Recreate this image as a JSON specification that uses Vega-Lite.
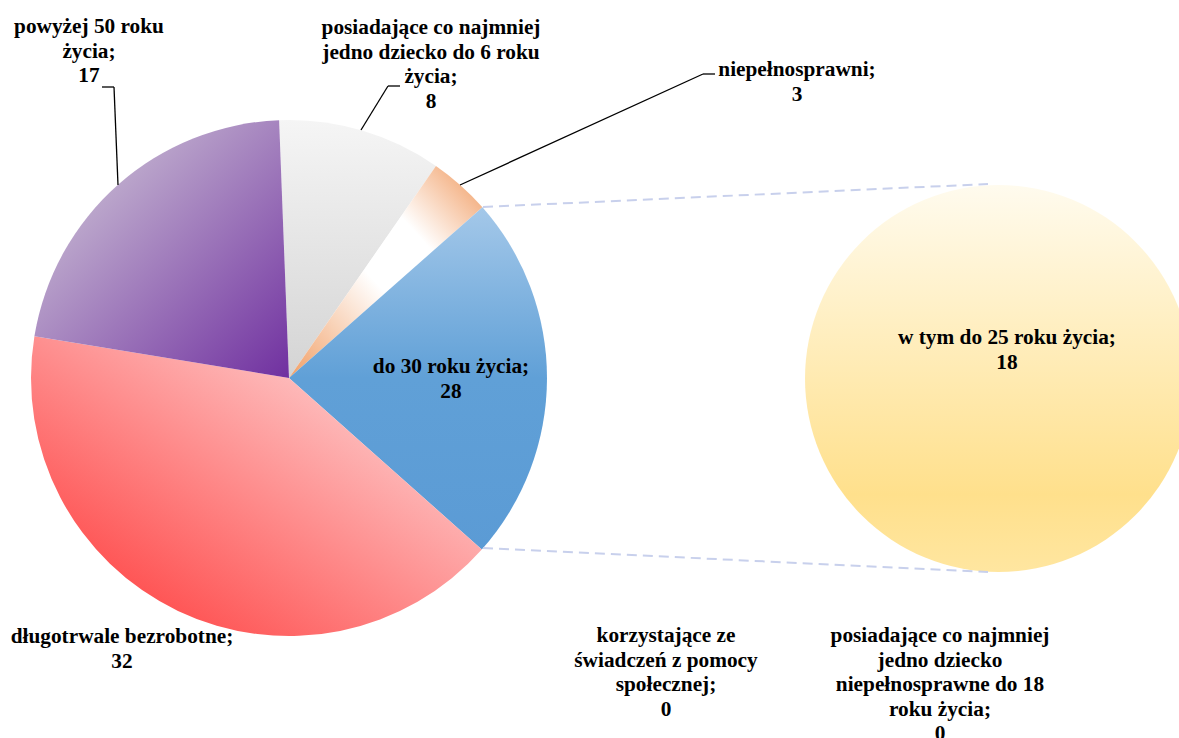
{
  "$schema": "https://vega.github.io/schema/vega-lite/v6.json",
  "width": 1179,
  "height": 738,
  "padding": 0,
  "autosize": {"type": "none"},
  "background": "#ffffff",
  "config": {
    "view": {"stroke": null},
    "text": {"font": "Liberation Serif", "fontWeight": "bold", "fontSize": 21.3, "lineHeight": 24.5, "color": "#000000", "align": "center", "baseline": "middle"}
  },
  "datasets": {
    "glowny": [
      {"kolej": 1, "kategoria": "posiadające co najmniej jedno dziecko do 6 roku życia", "wartosc": 8, "etykieta": ["posiadające co najmniej", "jedno dziecko do 6 roku", "życia;", "8"]},
      {"kolej": 2, "kategoria": "niepełnosprawni", "wartosc": 3, "etykieta": ["niepełnosprawni;", "3"]},
      {"kolej": 3, "kategoria": "do 30 roku życia", "wartosc": 18, "etykieta": ["do 30 roku życia;", "28"]},
      {"kolej": 4, "kategoria": "długotrwale bezrobotne", "wartosc": 32, "etykieta": ["długotrwale bezrobotne;", "32"]},
      {"kolej": 5, "kategoria": "powyżej 50 roku życia", "wartosc": 17, "etykieta": ["powyżej 50 roku", "życia;", "17"]}
    ],
    "drugi": [
      {"kolej": 1, "kategoria": "w tym do 25 roku życia", "wartosc": 18, "etykieta": ["w tym do 25 roku życia;", "18"]},
      {"kolej": 2, "kategoria": "korzystające ze świadczeń z pomocy społecznej", "wartosc": 0, "etykieta": ["korzystające ze", "świadczeń z pomocy", "społecznej;", "0"]},
      {"kolej": 3, "kategoria": "posiadające co najmniej jedno dziecko niepełnosprawne do 18 roku życia", "wartosc": 0, "etykieta": ["posiadające co najmniej", "jedno dziecko", "niepełnosprawne do 18", "roku życia;", "0"]}
    ],
    "pusty": [{}]
  },
  "resolve": {"scale": {"theta": "independent"}},
  "layer": [
    {
      "data": {"name": "glowny"},
      "mark": {"type": "arc", "outerRadius": 258, "stroke": null},
      "encoding": {
        "x": {"datum": 289, "type": "quantitative", "scale": {"domain": [0, 1179], "nice": false, "zero": false}, "axis": null},
        "y": {"datum": 378, "type": "quantitative", "scale": {"domain": [0, 738], "nice": false, "zero": false, "reverse": true}, "axis": null},
        "theta": {"field": "wartosc", "type": "quantitative", "stack": true, "scale": {"range": [-0.0384, 6.2448], "nice": false, "zero": true}},
        "order": {"field": "kolej", "type": "quantitative"},
        "fill": {
          "condition": [
            {"test": "datum.kolej === 1", "value": {"gradient": "linear", "x1": 0.5, "y1": 0, "x2": 0.5, "y2": 1, "stops": [{"offset": 0, "color": "#f5f5f5"}, {"offset": 1, "color": "#d4d4d4"}]}},
            {"test": "datum.kolej === 2", "value": {"gradient": "linear", "x1": 1, "y1": 0, "x2": 0, "y2": 1, "stops": [{"offset": 0, "color": "#f0985c"}, {"offset": 0.33, "color": "#ffffff"}, {"offset": 0.55, "color": "#ffffff"}, {"offset": 1, "color": "#f19f66"}]}},
            {"test": "datum.kolej === 3", "value": {"gradient": "linear", "x1": 0.5, "y1": 0, "x2": 0.5, "y2": 1, "stops": [{"offset": 0, "color": "#a4c8e9"}, {"offset": 0.5, "color": "#60a0d7"}, {"offset": 1, "color": "#5b9bd5"}]}},
            {"test": "datum.kolej === 4", "value": {"gradient": "linear", "x1": 0, "y1": 1, "x2": 1, "y2": 0, "stops": [{"offset": 0, "color": "#ff3030"}, {"offset": 1, "color": "#fdeeee"}]}},
            {"test": "datum.kolej === 5", "value": {"gradient": "linear", "x1": 0, "y1": 0, "x2": 1, "y2": 1, "stops": [{"offset": 0, "color": "#d8d4dc"}, {"offset": 1, "color": "#7030a0"}]}}
          ],
          "value": "#cccccc"
        }
      }
    },
    {
      "data": {"name": "drugi"},
      "mark": {"type": "arc", "outerRadius": 193.5, "stroke": null},
      "encoding": {
        "x": {"datum": 998.5, "type": "quantitative"},
        "y": {"datum": 378.5, "type": "quantitative"},
        "theta": {"field": "wartosc", "type": "quantitative", "stack": true},
        "order": {"field": "kolej", "type": "quantitative"},
        "fill": {"value": {"gradient": "linear", "x1": 0.5, "y1": 0, "x2": 0.5, "y2": 1, "stops": [{"offset": 0, "color": "#fffbee"}, {"offset": 0.8, "color": "#ffe08c"}, {"offset": 1, "color": "#ffe6a0"}]}}
      }
    },
    {
      "data": {"name": "pusty"},
      "mark": {"type": "rule", "color": "#c8d0ec", "strokeWidth": 2, "strokeDash": [10, 6]},
      "encoding": {"x": {"datum": 483, "type": "quantitative"}, "y": {"datum": 207, "type": "quantitative"}, "x2": {"datum": 988}, "y2": {"datum": 184}}
    },
    {
      "data": {"name": "pusty"},
      "mark": {"type": "rule", "color": "#c8d0ec", "strokeWidth": 2, "strokeDash": [10, 6]},
      "encoding": {"x": {"datum": 483, "type": "quantitative"}, "y": {"datum": 548, "type": "quantitative"}, "x2": {"datum": 988}, "y2": {"datum": 572}}
    },
    {
      "data": {"name": "pusty"},
      "mark": {"type": "rule", "color": "#000000", "strokeWidth": 1.3},
      "encoding": {"x": {"datum": 102, "type": "quantitative"}, "y": {"datum": 87, "type": "quantitative"}, "x2": {"datum": 114}, "y2": {"datum": 87}}
    },
    {
      "data": {"name": "pusty"},
      "mark": {"type": "rule", "color": "#000000", "strokeWidth": 1.3},
      "encoding": {"x": {"datum": 114, "type": "quantitative"}, "y": {"datum": 87, "type": "quantitative"}, "x2": {"datum": 118}, "y2": {"datum": 185}}
    },
    {
      "data": {"name": "pusty"},
      "mark": {"type": "rule", "color": "#000000", "strokeWidth": 1.3},
      "encoding": {"x": {"datum": 400, "type": "quantitative"}, "y": {"datum": 86, "type": "quantitative"}, "x2": {"datum": 388}, "y2": {"datum": 86}}
    },
    {
      "data": {"name": "pusty"},
      "mark": {"type": "rule", "color": "#000000", "strokeWidth": 1.3},
      "encoding": {"x": {"datum": 388, "type": "quantitative"}, "y": {"datum": 86, "type": "quantitative"}, "x2": {"datum": 361}, "y2": {"datum": 130}}
    },
    {
      "data": {"name": "pusty"},
      "mark": {"type": "rule", "color": "#000000", "strokeWidth": 1.3},
      "encoding": {"x": {"datum": 715, "type": "quantitative"}, "y": {"datum": 74, "type": "quantitative"}, "x2": {"datum": 703}, "y2": {"datum": 74}}
    },
    {
      "data": {"name": "pusty"},
      "mark": {"type": "rule", "color": "#000000", "strokeWidth": 1.3},
      "encoding": {"x": {"datum": 703, "type": "quantitative"}, "y": {"datum": 74, "type": "quantitative"}, "x2": {"datum": 460}, "y2": {"datum": 185}}
    },
    {
      "data": {"name": "glowny"},
      "transform": [{"filter": "datum.kolej === 1"}],
      "mark": {"type": "text"},
      "encoding": {"x": {"datum": 431, "type": "quantitative"}, "y": {"datum": 28, "type": "quantitative"}, "text": {"field": "etykieta"}}
    },
    {
      "data": {"name": "glowny"},
      "transform": [{"filter": "datum.kolej === 2"}],
      "mark": {"type": "text"},
      "encoding": {"x": {"datum": 797, "type": "quantitative"}, "y": {"datum": 70, "type": "quantitative"}, "text": {"field": "etykieta"}}
    },
    {
      "data": {"name": "glowny"},
      "transform": [{"filter": "datum.kolej === 3"}],
      "mark": {"type": "text"},
      "encoding": {"x": {"datum": 451, "type": "quantitative"}, "y": {"datum": 367, "type": "quantitative"}, "text": {"field": "etykieta"}}
    },
    {
      "data": {"name": "glowny"},
      "transform": [{"filter": "datum.kolej === 4"}],
      "mark": {"type": "text"},
      "encoding": {"x": {"datum": 122, "type": "quantitative"}, "y": {"datum": 637, "type": "quantitative"}, "text": {"field": "etykieta"}}
    },
    {
      "data": {"name": "glowny"},
      "transform": [{"filter": "datum.kolej === 5"}],
      "mark": {"type": "text"},
      "encoding": {"x": {"datum": 89, "type": "quantitative"}, "y": {"datum": 27, "type": "quantitative"}, "text": {"field": "etykieta"}}
    },
    {
      "data": {"name": "drugi"},
      "transform": [{"filter": "datum.kolej === 1"}],
      "mark": {"type": "text"},
      "encoding": {"x": {"datum": 1007, "type": "quantitative"}, "y": {"datum": 338, "type": "quantitative"}, "text": {"field": "etykieta"}}
    },
    {
      "data": {"name": "drugi"},
      "transform": [{"filter": "datum.kolej === 2"}],
      "mark": {"type": "text"},
      "encoding": {"x": {"datum": 666, "type": "quantitative"}, "y": {"datum": 636, "type": "quantitative"}, "text": {"field": "etykieta"}}
    },
    {
      "data": {"name": "drugi"},
      "transform": [{"filter": "datum.kolej === 3"}],
      "mark": {"type": "text"},
      "encoding": {"x": {"datum": 940, "type": "quantitative"}, "y": {"datum": 636, "type": "quantitative"}, "text": {"field": "etykieta"}}
    }
  ]
}
